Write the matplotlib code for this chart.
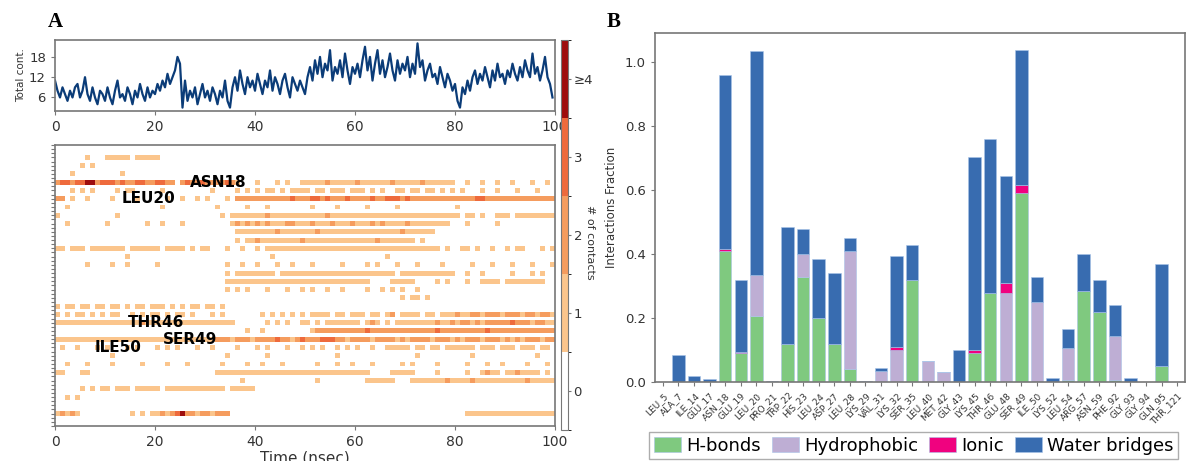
import numpy as np
import matplotlib.pyplot as plt
from matplotlib.colors import ListedColormap, BoundaryNorm

# ---- Panel A: total contacts over time (read every 0.5 ns) ----
total_contacts = [
    11, 8, 6, 9, 7, 5, 8, 6, 9, 10, 6, 8, 12, 7, 5, 9, 6, 4, 8, 7,
    5, 9, 6, 4, 8, 11, 6, 7, 5, 9, 7, 4, 8, 6, 10, 7, 5, 9, 6, 8,
    7, 10, 8, 11, 9, 13, 10, 12, 14, 18, 16, 3, 11, 5, 8, 6, 9, 4, 7, 10,
    6, 8, 5, 9, 7, 4, 8, 6, 11, 5, 3, 9, 12, 8, 14, 10, 7, 12, 9, 11,
    8, 13, 10, 7, 11, 9, 14, 8, 12, 10, 7, 11, 13, 9, 6, 12, 10, 8, 11, 9,
    7, 12, 15, 11, 17, 13, 18, 12, 16, 14, 20, 11, 15, 13, 17, 12, 19, 14, 10, 15,
    13, 16, 12, 17, 21, 14, 18, 11, 16, 20, 13, 17, 12, 15, 19, 14, 11, 17, 13, 16,
    14, 18, 12, 16, 13, 22, 15, 17, 11, 14, 16, 12, 13, 10, 15, 12, 9, 13, 11, 8,
    10, 5, 3, 9, 7, 11, 8, 12, 14, 10, 13, 11, 15, 12, 9, 14, 11, 16, 12, 13,
    10, 14, 12, 16, 13, 11, 15, 12, 17, 14, 12, 19, 13, 15, 11, 14, 18, 12, 10, 6,
]

# ---- Panel A: contact map, one char per ns ('.' = 0) ----
contact_rows = [
    "..........|..........|..........|..........|..........|..........|..........|..........|..........|..........",  # LEU_5
    "......1...|11111.1111|1.........|..........|..........|..........|..........|..........|..........|..........",  # ALA_7
    ".....1.1..|..........|..........|..........|..........|..........|..........|..........|..........|..........",  # ILE_14
    "...1......|...1......|..........|..........|..........|..........|..........|..........|..........|..........",  # GLU_17
    "2332334423|3323223322|3322.23223|2222321...|1...1.1..1|1111211111|2111111211|1112111111|..1..1..1.|.1...1..1.",  # ASN_18
    "...1.1.1..|..1.11....|.1........|.1....1.1.|1.11.1.111|1.11.111.1|11.1.1..11|.11.11.1.1|.1...1..1.|..1...1...",  # GLU_19
    "22.1..1...|.1....1...|..1..1..1.|1...1.2222|2222222322|2332322232|2223223332|3222222222|2222332222|2222222222",  # LEU_20
    "..1.......|..........|.1........|..1.....1.|..1.......|.1....1...|..1.....1.|..........|1.........|..........",  # PRO_21
    "1.........|..1.......|..........|...1.11111|1121111111|1111211111|1111111111|1111111111|1.11.1..11|1.11111111",  # TRP_22
    "..1.......|1.......1.|.1...1....|.....12121|2121112211|1211121112|1112121111|211111111.|..1.....1.|..........",  # HIS_23
    "..........|..........|..........|......1111|1111211111|1121111111|1111111112|111111....|..........|..........",  # LEU_24
    "..........|..........|..........|......1.11|2111111112|1111111111|1111211111|11.1......|..........|..........",  # ASP_27
    "11.111.111|1111.11111|1.1111.1.1|1...1..1..|1.11111111|1111111111|1111111111|1111111.1.|.11.1..1..|1.11...1.1",  # LEU_28
    "..........|....1.....|..........|..........|...1......|..........|......1...|..........|..........|..........",  # LYS_29
    "......1...|.1..1.....|1.........|....1..1..|1...1..1..|.1.....1..|..1.1...1.|..1....1..|...1...1..|.1...1...1",  # VAL_31
    "..........|..........|..........|....1.1111|1111.11111|1111111111|11111111.1|1111111111|..1..1....|.1...1.1..",  # LYS_32
    "..........|..........|..........|....111111|1111111111|1111111111|111....111|11....1.1.|..1..1111.|11111111..",  # SER_35
    "..........|..........|..........|....1.1.1.|..1...1..1|.1..1..1..|..1..1.1.1|..1.......|..........|..........",  # LEU_40
    "..........|..........|..........|..........|..........|..........|.........1|.11.1.....|..........|..........",  # MET_42
    "1.11.11.11|.11.1.11.1|11.1.1.11.|11.1......|..........|..........|..........|..........|..........|..........",  # GLY_43
    "1.1.11.1.1|.11..1.1.1|1.1.11.1..|.1.1......|.1.1.1.1.1|.1111.11.1|11.11.12.1|111.11.111|2112212221|2221221221",  # LYS_45
    "1111111111|1111111211|1111111111|111111....|..1.1.1..1|1.1.111111|1.121.1.11|1111112112|1221212222|2322212211",  # THR_46
    "..........|..........|..........|........1.|.1........|.122222222|2232222222|2222223222|2222223222|2222222222",  # GLU_48
    "1111111111|1111111111|1111111111|1122212221|2222322123|2223332212|2221222212|1222212221|2122212221|2121222122",  # SER_49
    ".1..1...1.|1...1.1...|1.1.1...1.|.1....1...|1.1...1..1|.1.1..1.1.|1..1..1111|1.11.11.11|1111.111.1|11.111.11.",  # ILE_50
    "..........|.1........|..........|....1.....|..1.......|......1...|..........|..1.......|...1......|......1...",  # LYS_52
    "..1...1...|.1.....1..|..1...1...|...1....1.|.1...1....|..1...1..1|...1.....1|.1....1...|..1...1..1|....1...1.",  # LEU_54
    "11...11...|..........|..........|..11111111|1111111111|1111111111|111....111|11....1...|..1..1211.|1121111.1.",  # ARG_57
    "..........|..........|..........|.......1..|..........|..1.......|..111111..|.111111121|1112111111|1111211111",  # ASN_59
    ".....1.1.1|1.111.1111|1.11111111|1111.11111|..........|..........|..........|..........|..........|..........",  # PHE_92
    "..1.1.....|..........|..........|..........|..........|..........|..........|..........|..........|..........",  # GLY_93
    "..........|..........|..........|..........|..........|..........|..........|..........|..........|..........",  # GLY_94
    "12121.....|.....1.1.1|1212342212|21222.....|..........|..........|..........|..........|..11111111|1111111111",  # GLN_95
    "..........|..........|..........|..........|..........|..........|..........|..........|..........|..........",  # THR_121
]
contact_levels = ['0', '1', '2', '3', '\u22654']
contact_colors = ['#ffffff', '#fbc58c', '#f59c5e', '#ee6a3c', '#9e0d0d']
residue_labels = [('ASN18', 27, 4), ('LEU20', 13.4, 6), ('THR46', 14.6, 21),
                  ('SER49', 21.6, 23), ('ILE50', 8, 24)]

# ---- Panel B: interaction fractions ----
residues = ['LEU_5', 'ALA_7', 'ILE_14', 'GLU_17', 'ASN_18', 'GLU_19', 'LEU_20', 'PRO_21',
            'TRP_22', 'HIS_23', 'LEU_24', 'ASP_27', 'LEU_28', 'LYS_29', 'VAL_31', 'LYS_32',
            'SER_35', 'LEU_40', 'MET_42', 'GLY_43', 'LYS_45', 'THR_46', 'GLU_48', 'SER_49',
            'ILE_50', 'LYS_52', 'LEU_54', 'ARG_57', 'ASN_59', 'PHE_92', 'GLY_93', 'GLY_94',
            'GLN_95', 'THR_121']
hbonds = [0, 0, 0, 0, 0.41, 0.09, 0.205, 0, 0.12, 0.33, 0.2, 0.12, 0.04, 0, 0, 0,
          0.32, 0, 0, 0, 0.09, 0.28, 0, 0.59, 0, 0, 0.005, 0.285, 0.22, 0.005, 0, 0, 0.05, 0]
hydrophobic = [0, 0, 0, 0, 0, 0, 0.13, 0, 0, 0.07, 0, 0, 0.37, 0, 0.035, 0.1,
               0, 0.065, 0.032, 0, 0, 0, 0.28, 0, 0.25, 0, 0.1, 0, 0, 0.14, 0, 0, 0, 0]
ionic = [0, 0, 0, 0, 0.005, 0.004, 0, 0, 0, 0, 0, 0, 0, 0, 0, 0.01,
         0, 0, 0, 0, 0.01, 0, 0.03, 0.025, 0, 0, 0, 0, 0, 0, 0, 0, 0, 0]
water = [0, 0.085, 0.018, 0.01, 0.545, 0.226, 0.70, 0.003, 0.365, 0.08, 0.185, 0.22, 0.04, 0.003,
         0.01, 0.285, 0.11, 0, 0, 0.1, 0.605, 0.48, 0.335, 0.425, 0.08, 0.012, 0.06, 0.115,
         0.10, 0.095, 0.012, 0, 0.32, 0]
series_names = ['H-bonds', 'Hydrophobic', 'Ionic', 'Water bridges']
series_colors = ['#7fc97f', '#beaed4', '#f0027f', '#386cb0']

W, H = 1193, 461
fig = plt.figure(figsize=(W / 100, H / 100), dpi=100)
spine_c = '#777777'
tick_c = '#333333'

def px(x0, y0, x1, y1):
    return [x0 / W, 1 - y1 / H, (x1 - x0) / W, (y1 - y0) / H]

def style(ax):
    for s in ax.spines.values():
        s.set_color(spine_c)
        s.set_linewidth(1.2)
    ax.tick_params(colors=spine_c, labelcolor=tick_c)

# top time series
ax1 = fig.add_axes(px(55, 40, 555, 111))
t = np.arange(len(total_contacts)) * 0.5
ax1.plot(t, total_contacts, color='#0b3c78', lw=1.6)
ax1.set_xlim(0, 100)
ax1.set_ylim(2, 23)
ax1.set_yticks([6, 12, 18])
ax1.set_xticks([0, 20, 40, 60, 80, 100])
ax1.set_ylabel('Total cont.', fontsize=7.5, color=tick_c, labelpad=2)
ax1.tick_params(labelsize=10, length=3)
style(ax1)
ax1.tick_params(axis='y', labelsize=9.5)

# contact heatmap (each row drawn as a band with thin white gaps)
ax2 = fig.add_axes(px(55, 145, 555, 426))
mat = np.array([[int(c) for c in r.replace('|', '').replace('.', '0')] for r in contact_rows])
nrow = len(contact_rows)
sub = 5
big = np.zeros((nrow * sub, mat.shape[1]), dtype=int)
for i in range(nrow):
    big[i * sub + 1:i * sub + 4] = mat[i]
cmap = ListedColormap(contact_colors)
norm = BoundaryNorm(np.arange(-0.5, 5.5, 1), cmap.N)
im = ax2.imshow(big, aspect='auto', cmap=cmap, norm=norm, interpolation='nearest',
                extent=(0, 100, nrow - 0.5, -0.5))
ax2.set_xlim(0, 100)
ax2.set_xticks([0, 20, 40, 60, 80, 100])
ax2.set_yticks(np.arange(-0.5, nrow, 0.5))
ax2.set_yticklabels([])
ax2.tick_params(labelsize=10, length=3)
style(ax2)
ax2.set_xlabel('Time (nsec)', fontsize=11, color=tick_c, labelpad=1)
for name, x, row in residue_labels:
    ax2.text(x, row, name, fontsize=11, fontweight='bold', va='center', ha='left', color='black')

# colorbar
cax = fig.add_axes(px(561, 40, 568, 430))
cb = fig.colorbar(im, cax=cax, ticks=range(5))
cb.ax.set_yticklabels(contact_levels)
cb.ax.tick_params(labelsize=9.5, length=2, pad=2, colors=spine_c, labelcolor=tick_c)
cb.outline.set_edgecolor(spine_c)
cb.set_label('# of contacts', rotation=270, fontsize=8, color=tick_c, labelpad=2)
cb.ax.yaxis.set_label_coords(4.9, 0.48)

# panel B
ax3 = fig.add_axes(px(655, 33, 1185, 382))
x = np.arange(len(residues))
bottom = np.zeros(len(residues))
for vals, name, col in zip([hbonds, hydrophobic, ionic, water], series_names, series_colors):
    ax3.bar(x, vals, 0.8, bottom=bottom, color=col, edgecolor='#a9c4e8', linewidth=0.4, label=name)
    bottom += np.array(vals)
ax3.set_xlim(-0.5, len(residues) - 0.5)
ax3.set_ylim(0, 1.092)
ax3.set_yticks([0, 0.2, 0.4, 0.6, 0.8, 1.0])
ax3.set_xticks(x)
ax3.set_xticklabels(residues, rotation=45, ha='right', rotation_mode='anchor', fontsize=6.5)
ax3.tick_params(axis='y', labelsize=9.5, length=3)
ax3.tick_params(axis='x', length=3)
style(ax3)
ax3.set_ylabel('Interactions Fraction', fontsize=8.5, color=tick_c, labelpad=5)

handles, labels = ax3.get_legend_handles_labels()
fig.legend(handles, labels, loc='upper left', bbox_to_anchor=(640 / W, 1 - 423 / H),
           ncol=4, fontsize=13, frameon=True, handlelength=1.5, handleheight=0.9,
           handletextpad=0.3, columnspacing=0.6, borderpad=0.25, fancybox=False,
           edgecolor='#999999')

fig.text(48 / W, 1 - 22 / H, 'A', fontsize=15, fontweight='bold', family='Liberation Serif', va='center')
fig.text(607 / W, 1 - 22 / H, 'B', fontsize=15, fontweight='bold', family='Liberation Serif', va='center')

fig.savefig('out.png', dpi=100)
